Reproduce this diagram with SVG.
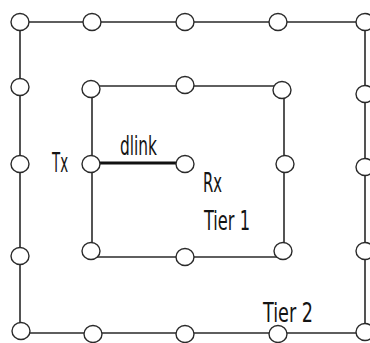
<svg xmlns="http://www.w3.org/2000/svg" width="370" height="343" viewBox="0 0 370 343">
  <defs>
    <style>
      .link { stroke: #2a2a2a; stroke-width: 1.6; fill: none; }
      .dlink { stroke: #111; stroke-width: 2.8; }
      .node ellipse { fill: #fff; stroke: #2a2a2a; stroke-width: 1.4; }
      .lbl { font-family: "DejaVu Sans Condensed", "DejaVu Sans", sans-serif; font-stretch: condensed; font-size: 26px; fill: #141414; }
    </style>
  </defs>
  <rect width="370" height="343" fill="#fff"/>

  <!-- connectors -->
  <g id="connectors">
    <!-- tier 2 ring -->
    <polyline class="link" points="20,22 365,22 365,332"/>
    <polyline class="link" points="20,22 20,331 21,333 365,333 365,332"/>
    <!-- tier 1 ring -->
    <line class="link" x1="92" y1="86" x2="282" y2="86"/>
    <line class="link" x1="92" y1="86" x2="92" y2="257"/>
    <line class="link" x1="92" y1="257" x2="283" y2="257"/>
    <line class="link" x1="284" y1="90" x2="284" y2="251"/>
    <!-- direct link Tx to Rx -->
    <line id="dlink" class="dlink" x1="92" y1="163" x2="185" y2="163"/>
  </g>

  <!-- tier 2 nodes -->
  <g id="o1" class="node"><ellipse cx="20" cy="22" rx="9" ry="8.5"/></g>
  <g id="o2" class="node"><ellipse cx="92" cy="22" rx="9" ry="8.5"/></g>
  <g id="o3" class="node"><ellipse cx="185" cy="22" rx="9" ry="8.5"/></g>
  <g id="o4" class="node"><ellipse cx="278" cy="22" rx="9" ry="8.5"/></g>
  <g id="o5" class="node"><ellipse cx="365" cy="22" rx="9" ry="8.5"/></g>
  <g id="o6" class="node"><ellipse cx="365" cy="94" rx="9" ry="8.5"/></g>
  <g id="o7" class="node"><ellipse cx="365" cy="167" rx="9" ry="8.5"/></g>
  <g id="o8" class="node"><ellipse cx="365" cy="251" rx="9" ry="8.5"/></g>
  <g id="o9" class="node"><ellipse cx="365" cy="332" rx="9" ry="8.5"/></g>
  <g id="o10" class="node"><ellipse cx="278" cy="334" rx="9" ry="8.5"/></g>
  <g id="o11" class="node"><ellipse cx="185" cy="334" rx="9" ry="8.5"/></g>
  <g id="o12" class="node"><ellipse cx="93" cy="334" rx="9" ry="8.5"/></g>
  <g id="o13" class="node"><ellipse cx="21" cy="331" rx="9" ry="8.5"/></g>
  <g id="o14" class="node"><ellipse cx="20" cy="256" rx="9" ry="8.5"/></g>
  <g id="o15" class="node"><ellipse cx="20" cy="164" rx="9" ry="8.5"/></g>
  <g id="o16" class="node"><ellipse cx="20" cy="87" rx="9" ry="8.5"/></g>

  <!-- tier 1 nodes -->
  <g id="i1" class="node"><ellipse cx="91" cy="89" rx="9" ry="8.5"/></g>
  <g id="i2" class="node"><ellipse cx="185" cy="85" rx="9" ry="8.5"/></g>
  <g id="i3" class="node"><ellipse cx="282" cy="90" rx="9" ry="8.5"/></g>
  <g id="i4" class="node"><ellipse cx="285" cy="164" rx="9" ry="8.5"/></g>
  <g id="i5" class="node"><ellipse cx="283" cy="251" rx="9" ry="8.5"/></g>
  <g id="i6" class="node"><ellipse cx="185" cy="257" rx="9" ry="8.5"/></g>
  <g id="i7" class="node"><ellipse cx="91" cy="251" rx="9" ry="8.5"/></g>

  <!-- transmitter and receiver -->
  <g id="tx" class="node">
    <ellipse cx="91" cy="164" rx="9" ry="8.5"/>
    <text class="lbl" x="52" y="172" textLength="16" lengthAdjust="spacingAndGlyphs">Tx</text>
  </g>
  <g id="rx" class="node">
    <ellipse cx="185" cy="164" rx="9" ry="8.5"/>
    <text class="lbl" x="203" y="192" textLength="19" lengthAdjust="spacingAndGlyphs">Rx</text>
  </g>

  <!-- labels -->
  <text class="lbl" x="120" y="155" textLength="37" lengthAdjust="spacingAndGlyphs">dlink</text>
  <text class="lbl" x="204" y="230" textLength="46" lengthAdjust="spacingAndGlyphs">Tier 1</text>
  <text class="lbl" x="263" y="322" textLength="50" lengthAdjust="spacingAndGlyphs">Tier 2</text>
</svg>
